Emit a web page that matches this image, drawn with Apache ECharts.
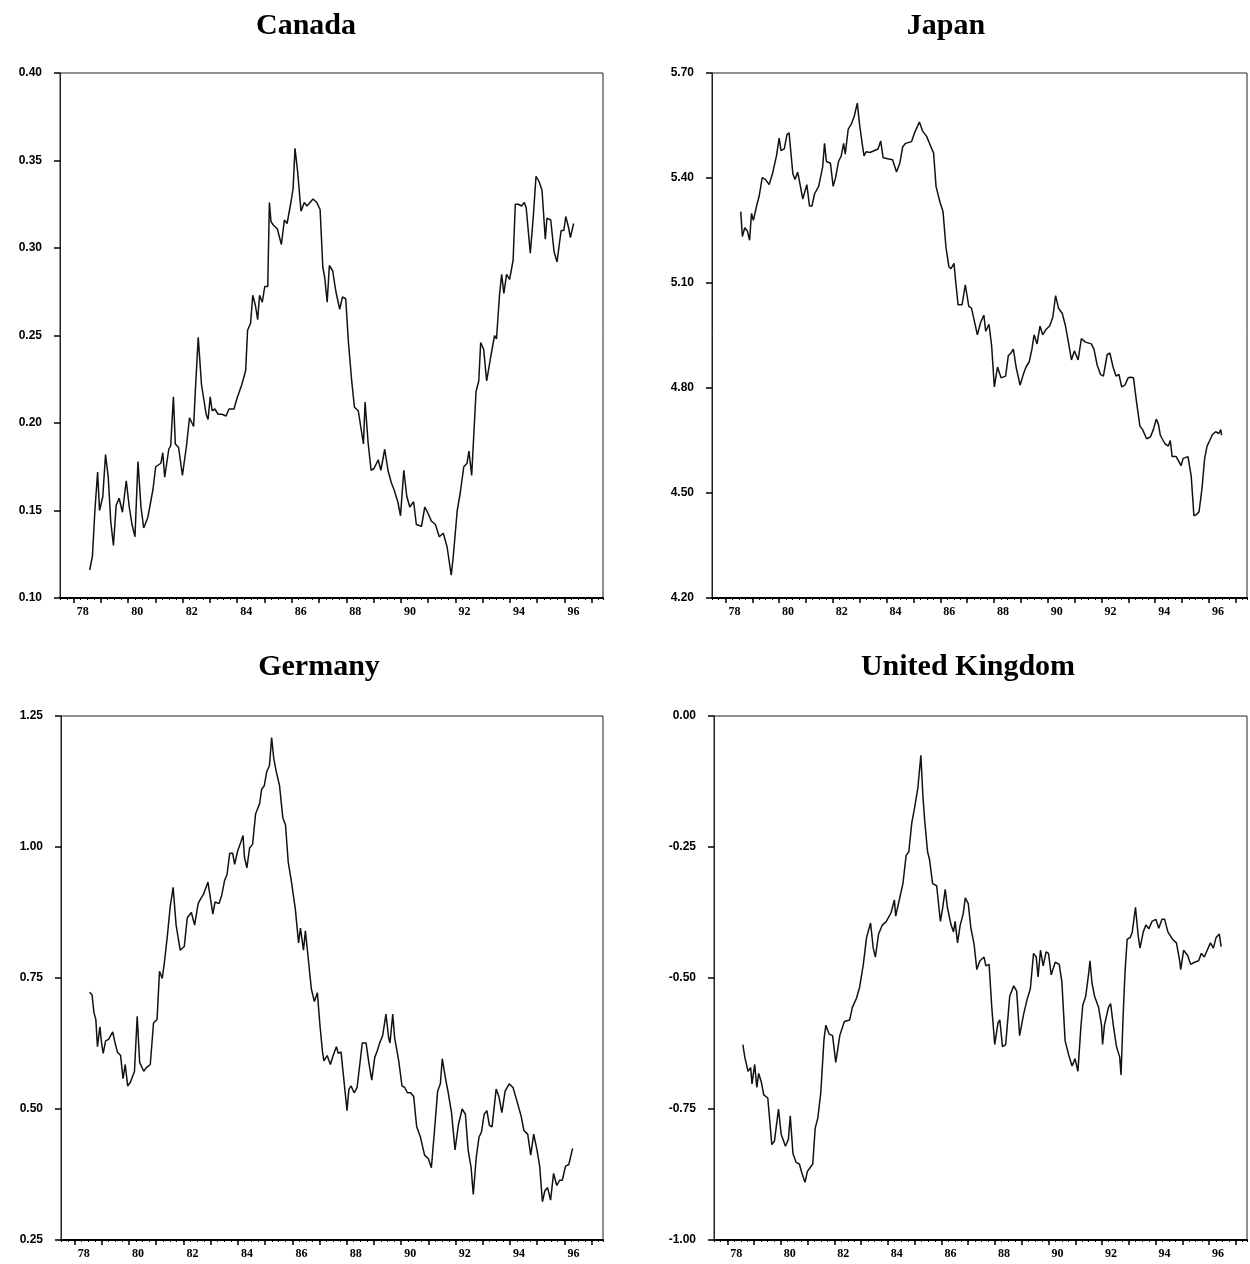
<!DOCTYPE html>
<html>
<head>
<meta charset="utf-8">
<script src="https://cdn.jsdelivr.net/npm/echarts@6/dist/echarts.min.js"></script>
<style>
  html, body { margin: 0; background: #fff; }
  #chart { width: 1250px; height: 1264px; }
</style>
</head>
<body>
<div id="chart"></div>
<script>
// values, time as decimal year
var canadaYears = [1978.59,1978.69,1978.78,1978.88,1978.95,1979.07,1979.17,1979.27,1979.36,1979.46,
  1979.56,1979.67,1979.79,1979.93,1980.04,1980.14,1980.25,1980.36,1980.47,1980.57,
  1980.72,1980.91,1981.01,1981.20,1981.27,1981.34,1981.49,1981.56,1981.66,1981.73,
  1981.85,1981.99,1982.14,1982.25,1982.40,1982.47,1982.57,1982.69,1982.86,1982.93,
  1983.01,1983.08,1983.18,1983.30,1983.44,1983.59,1983.70,1983.88,1983.99,1984.17,
  1984.31,1984.38,1984.49,1984.57,1984.67,1984.75,1984.82,1984.92,1985.01,1985.12,
  1985.18,1985.24,1985.33,1985.47,1985.62,1985.73,1985.83,1985.98,1986.05,1986.12,
  1986.22,1986.34,1986.46,1986.56,1986.78,1986.92,1987.04,1987.14,1987.21,1987.30,
  1987.38,1987.50,1987.62,1987.76,1987.86,1987.98,1988.08,1988.20,1988.30,1988.44,
  1988.54,1988.63,1988.69,1988.80,1988.91,1989.02,1989.17,1989.27,1989.41,1989.53,
  1989.65,1989.75,1989.89,1989.99,1990.11,1990.22,1990.33,1990.47,1990.57,1990.76,
  1990.88,1991.01,1991.12,1991.27,1991.41,1991.56,1991.70,1991.85,1991.92,1992.07,
  1992.18,1992.31,1992.43,1992.50,1992.60,1992.69,1992.76,1992.86,1992.93,1993.04,
  1993.15,1993.30,1993.44,1993.51,1993.62,1993.70,1993.78,1993.88,1993.99,1994.12,
  1994.20,1994.31,1994.43,1994.53,1994.60,1994.75,1994.86,1994.96,1995.07,1995.18,
  1995.30,1995.36,1995.50,1995.62,1995.73,1995.88,1995.98,1996.05,1996.15,1996.22,
  1996.34];
var canadaValues = [0.116,0.124,0.150,0.172,0.150,0.158,0.182,0.169,0.144,0.130,
  0.153,0.157,0.149,0.167,0.152,0.142,0.135,0.178,0.152,0.140,
  0.146,0.162,0.175,0.177,0.183,0.169,0.185,0.187,0.215,0.188,
  0.186,0.170,0.187,0.203,0.198,0.220,0.249,0.222,0.205,0.202,
  0.215,0.207,0.208,0.205,0.205,0.204,0.208,0.208,0.214,0.222,
  0.230,0.253,0.257,0.273,0.267,0.259,0.273,0.269,0.278,0.278,
  0.326,0.315,0.313,0.311,0.302,0.316,0.314,0.327,0.334,0.357,
  0.343,0.321,0.326,0.324,0.328,0.326,0.322,0.289,0.283,0.269,
  0.290,0.287,0.275,0.265,0.272,0.271,0.246,0.224,0.209,0.207,
  0.197,0.188,0.212,0.189,0.173,0.174,0.179,0.173,0.185,0.173,
  0.166,0.162,0.155,0.147,0.173,0.158,0.152,0.155,0.142,0.141,
  0.152,0.148,0.144,0.142,0.135,0.137,0.129,0.113,0.123,0.150,
  0.160,0.175,0.177,0.184,0.170,0.197,0.218,0.224,0.246,0.242,
  0.224,0.238,0.250,0.248,0.273,0.285,0.274,0.285,0.282,0.293,
  0.325,0.325,0.324,0.326,0.323,0.297,0.318,0.341,0.338,0.333,
  0.305,0.317,0.316,0.298,0.292,0.310,0.310,0.318,0.312,0.306,
  0.314];

var japanYears = [1978.57,1978.63,1978.72,1978.82,1978.90,1978.97,1979.04,1979.16,1979.26,1979.37,
  1979.49,1979.63,1979.75,1979.90,1980.00,1980.07,1980.19,1980.29,1980.37,1980.51,
  1980.59,1980.69,1980.78,1980.88,1981.03,1981.13,1981.22,1981.32,1981.47,1981.62,
  1981.69,1981.76,1981.91,1982.01,1982.10,1982.21,1982.31,1982.40,1982.46,1982.57,
  1982.69,1982.79,1982.91,1982.99,1983.09,1983.16,1983.24,1983.38,1983.53,1983.68,
  1983.78,1983.87,1984.04,1984.22,1984.37,1984.49,1984.60,1984.71,1984.93,1985.04,
  1985.22,1985.34,1985.49,1985.63,1985.75,1985.84,1985.99,1986.10,1986.21,1986.32,
  1986.40,1986.51,1986.57,1986.66,1986.81,1986.93,1987.06,1987.16,1987.28,1987.38,
  1987.50,1987.62,1987.69,1987.81,1987.91,1988.01,1988.13,1988.26,1988.43,1988.53,
  1988.63,1988.72,1988.82,1988.97,1989.09,1989.19,1989.31,1989.41,1989.49,1989.60,
  1989.71,1989.81,1989.93,1990.07,1990.19,1990.29,1990.40,1990.54,1990.66,1990.78,
  1990.88,1990.99,1991.13,1991.25,1991.40,1991.62,1991.72,1991.84,1991.96,1992.07,
  1992.21,1992.31,1992.43,1992.54,1992.65,1992.75,1992.87,1992.99,1993.09,1993.19,
  1993.31,1993.43,1993.53,1993.68,1993.82,1993.93,1994.04,1994.12,1994.19,1994.26,
  1994.37,1994.49,1994.56,1994.63,1994.78,1994.85,1994.96,1995.04,1995.22,1995.34,
  1995.40,1995.44,1995.54,1995.63,1995.74,1995.84,1995.93,1996.03,1996.13,1996.25,
  1996.37,1996.44,1996.47];
var japanValues = [5.304,5.233,5.258,5.248,5.222,5.299,5.279,5.320,5.350,5.401,
  5.396,5.381,5.412,5.463,5.514,5.478,5.483,5.524,5.529,5.412,
  5.396,5.417,5.381,5.340,5.381,5.320,5.320,5.355,5.376,5.432,
  5.499,5.447,5.442,5.376,5.401,5.447,5.463,5.499,5.468,5.539,
  5.555,5.575,5.614,5.555,5.499,5.463,5.475,5.473,5.478,5.483,
  5.506,5.458,5.455,5.452,5.417,5.442,5.489,5.499,5.504,5.529,
  5.560,5.534,5.519,5.493,5.471,5.376,5.330,5.304,5.202,5.146,
  5.141,5.156,5.105,5.038,5.038,5.095,5.033,5.028,4.987,4.952,
  4.987,5.008,4.962,4.982,4.921,4.803,4.860,4.829,4.834,4.892,
  4.900,4.911,4.860,4.808,4.839,4.860,4.875,4.911,4.952,4.926,
  4.977,4.952,4.967,4.977,5.003,5.064,5.028,5.013,4.977,4.926,
  4.880,4.906,4.880,4.941,4.931,4.926,4.911,4.865,4.839,4.834,
  4.895,4.900,4.860,4.834,4.839,4.803,4.808,4.829,4.831,4.829,
  4.757,4.691,4.681,4.655,4.660,4.681,4.711,4.696,4.665,4.655,
  4.640,4.634,4.650,4.604,4.604,4.609,4.578,4.599,4.604,4.548,
  4.481,4.435,4.439,4.446,4.512,4.599,4.634,4.650,4.667,4.675,
  4.670,4.681,4.665];

var germanyYears = [1978.55,1978.64,1978.71,1978.78,1978.84,1978.93,1978.99,1979.05,1979.14,1979.25,
  1979.40,1979.47,1979.57,1979.69,1979.78,1979.86,1979.95,1980.05,1980.20,1980.30,
  1980.39,1980.54,1980.64,1980.78,1980.90,1981.03,1981.12,1981.22,1981.30,1981.41,
  1981.51,1981.62,1981.73,1981.88,1982.03,1982.14,1982.29,1982.41,1982.54,1982.64,
  1982.73,1982.90,1983.00,1983.08,1983.16,1983.31,1983.41,1983.51,1983.60,1983.70,
  1983.81,1983.88,1984.00,1984.10,1984.19,1984.24,1984.33,1984.43,1984.54,1984.65,
  1984.80,1984.87,1984.97,1985.06,1985.16,1985.24,1985.32,1985.41,1985.53,1985.65,
  1985.75,1985.85,1985.97,1986.11,1986.23,1986.30,1986.41,1986.48,1986.58,1986.70,
  1986.81,1986.92,1987.02,1987.11,1987.16,1987.28,1987.40,1987.50,1987.62,1987.69,
  1987.79,1987.89,1988.01,1988.08,1988.16,1988.27,1988.38,1988.48,1988.57,1988.71,
  1988.81,1988.92,1989.03,1989.11,1989.21,1989.32,1989.44,1989.54,1989.59,1989.69,
  1989.76,1989.91,1990.03,1990.13,1990.23,1990.35,1990.46,1990.57,1990.71,1990.86,
  1991.00,1991.11,1991.22,1991.34,1991.44,1991.51,1991.63,1991.73,1991.85,1991.98,
  1992.10,1992.24,1992.36,1992.46,1992.57,1992.65,1992.76,1992.86,1992.95,1993.05,
  1993.15,1993.24,1993.34,1993.49,1993.59,1993.70,1993.82,1993.97,1994.11,1994.26,
  1994.41,1994.51,1994.65,1994.76,1994.87,1994.99,1995.09,1995.19,1995.28,1995.38,
  1995.49,1995.60,1995.72,1995.82,1995.92,1996.04,1996.16,1996.30];
var germanyValues = [0.723,0.718,0.684,0.671,0.619,0.657,0.626,0.606,0.630,0.633,
  0.647,0.630,0.609,0.602,0.558,0.585,0.544,0.551,0.572,0.677,
  0.589,0.572,0.579,0.585,0.664,0.671,0.763,0.749,0.780,0.831,
  0.885,0.923,0.851,0.803,0.810,0.865,0.875,0.851,0.892,0.902,
  0.909,0.933,0.899,0.872,0.895,0.892,0.909,0.936,0.947,0.988,
  0.988,0.967,0.994,1.008,1.022,0.981,0.960,0.998,1.005,1.063,
  1.083,1.110,1.117,1.144,1.155,1.209,1.168,1.144,1.117,1.056,
  1.042,0.971,0.933,0.882,0.817,0.845,0.803,0.840,0.790,0.729,
  0.705,0.722,0.657,0.609,0.592,0.602,0.585,0.602,0.619,0.606,
  0.609,0.558,0.497,0.538,0.544,0.531,0.541,0.585,0.626,0.626,
  0.589,0.555,0.599,0.609,0.626,0.640,0.681,0.636,0.626,0.681,
  0.636,0.592,0.544,0.541,0.531,0.531,0.524,0.466,0.446,0.412,
  0.405,0.388,0.456,0.534,0.548,0.596,0.558,0.531,0.493,0.422,
  0.469,0.500,0.490,0.422,0.388,0.337,0.408,0.446,0.456,0.490,
  0.497,0.469,0.466,0.538,0.524,0.493,0.534,0.548,0.541,0.514,
  0.486,0.459,0.452,0.412,0.452,0.422,0.391,0.323,0.344,0.350,
  0.326,0.377,0.354,0.364,0.364,0.391,0.394,0.425];

var ukYears = [1978.58,1978.65,1978.77,1978.87,1978.92,1979.02,1979.10,1979.17,1979.27,1979.36,
  1979.51,1979.66,1979.76,1979.91,1980.01,1980.17,1980.28,1980.35,1980.45,1980.57,
  1980.69,1980.79,1980.90,1980.99,1981.09,1981.19,1981.28,1981.38,1981.49,1981.61,
  1981.68,1981.80,1981.93,1982.05,1982.20,1982.37,1982.57,1982.67,1982.82,1982.94,
  1983.08,1983.20,1983.35,1983.45,1983.53,1983.65,1983.79,1983.94,1984.12,1984.24,
  1984.29,1984.41,1984.56,1984.68,1984.78,1984.89,1985.00,1985.12,1985.23,1985.30,
  1985.37,1985.48,1985.55,1985.67,1985.82,1985.96,1986.04,1986.14,1986.22,1986.36,
  1986.45,1986.51,1986.60,1986.70,1986.81,1986.89,1987.00,1987.10,1987.22,1987.32,
  1987.44,1987.59,1987.66,1987.78,1987.88,1987.99,1988.11,1988.18,1988.28,1988.40,
  1988.55,1988.70,1988.81,1988.92,1989.07,1989.21,1989.32,1989.44,1989.54,1989.61,
  1989.70,1989.80,1989.91,1990.00,1990.10,1990.25,1990.40,1990.50,1990.62,1990.76,
  1990.88,1990.99,1991.10,1991.21,1991.28,1991.39,1991.50,1991.55,1991.62,1991.72,
  1991.87,1991.98,1992.02,1992.09,1992.24,1992.32,1992.42,1992.54,1992.66,1992.71,
  1992.79,1992.86,1992.94,1993.05,1993.13,1993.25,1993.35,1993.42,1993.54,1993.64,
  1993.75,1993.87,1994.01,1994.12,1994.24,1994.34,1994.46,1994.63,1994.78,1994.90,
  1994.94,1995.05,1995.20,1995.31,1995.46,1995.61,1995.71,1995.82,1995.93,1996.05,
  1996.16,1996.26,1996.38,1996.45];
var ukValues = [-0.627,-0.651,-0.678,-0.671,-0.702,-0.665,-0.709,-0.682,-0.699,-0.723,
  -0.729,-0.818,-0.811,-0.750,-0.798,-0.821,-0.808,-0.763,-0.835,-0.852,
  -0.855,-0.873,-0.890,-0.869,-0.862,-0.855,-0.787,-0.767,-0.719,-0.617,
  -0.590,-0.607,-0.610,-0.661,-0.610,-0.583,-0.580,-0.556,-0.539,-0.518,
  -0.474,-0.423,-0.395,-0.443,-0.460,-0.416,-0.399,-0.392,-0.375,-0.351,
  -0.382,-0.354,-0.320,-0.266,-0.259,-0.204,-0.174,-0.136,-0.075,-0.147,
  -0.198,-0.259,-0.273,-0.320,-0.324,-0.392,-0.368,-0.331,-0.365,-0.399,
  -0.412,-0.392,-0.433,-0.399,-0.378,-0.347,-0.358,-0.405,-0.436,-0.484,
  -0.467,-0.460,-0.477,-0.474,-0.556,-0.627,-0.586,-0.580,-0.631,-0.627,
  -0.535,-0.515,-0.525,-0.610,-0.569,-0.539,-0.521,-0.453,-0.460,-0.498,
  -0.447,-0.477,-0.450,-0.453,-0.494,-0.470,-0.474,-0.508,-0.620,-0.648,
  -0.668,-0.654,-0.678,-0.593,-0.552,-0.535,-0.491,-0.467,-0.508,-0.535,
  -0.556,-0.590,-0.627,-0.590,-0.556,-0.549,-0.590,-0.631,-0.651,-0.685,
  -0.569,-0.487,-0.426,-0.423,-0.412,-0.365,-0.419,-0.443,-0.412,-0.399,
  -0.406,-0.392,-0.388,-0.405,-0.388,-0.388,-0.412,-0.426,-0.433,-0.467,
  -0.484,-0.447,-0.457,-0.474,-0.470,-0.467,-0.453,-0.460,-0.447,-0.433,
  -0.443,-0.423,-0.416,-0.440];

// year labels shown under each panel
var yearLabels = ['78','80','82','84','86','88','90','92','94','96'];

// monthly categories, July 1977 .. June 1997, used only for ticks and labels
var startT = 1977.5;
var months = [];
for (var i = 0; i < 240; i++) {
  var m = 6 + i;
  var y = 1977 + Math.floor(m / 12);
  var mm = m % 12 + 1;
  months.push(y + '-' + (mm < 10 ? '0' + mm : mm));
}
var endT = startT + (months.length - 1) / 12;

var panels = [
  { name: 'Canada', years: canadaYears, values: canadaValues, min: 0.10, max: 0.40, step: 0.05,
    left: 60, top: 73, width: 543, height: 525, tx: 306, ty: 26 },
  { name: 'Japan', years: japanYears, values: japanValues, min: 4.20, max: 5.70, step: 0.30,
    left: 712, top: 73, width: 535, height: 525, tx: 946, ty: 26 },
  { name: 'Germany', years: germanyYears, values: germanyValues, min: 0.25, max: 1.25, step: 0.25,
    left: 61, top: 716, width: 542, height: 524, tx: 319, ty: 667 },
  { name: 'United Kingdom', years: ukYears, values: ukValues, min: -1.00, max: 0.00, step: 0.25,
    left: 714, top: 716, width: 533, height: 524, tx: 968, ty: 667 }
];

var grids = [], xAxes = [], yAxes = [], series = [], graphics = [];

panels.forEach(function (p, k) {
  grids.push({
    left: p.left, top: p.top, width: p.width, height: p.height,
    show: true, borderColor: '#222', borderWidth: 1
  });
  // scale for the data, its ticks are the small quarter marks
  xAxes.push({
    gridIndex: k, type: 'value', position: 'bottom',
    min: startT, max: endT, interval: 0.25,
    axisLine: { show: false, onZero: false },
    axisTick: { show: true, length: 2, lineStyle: { color: '#000', width: 1 } },
    axisLabel: { show: false },
    splitLine: { show: false }
  });
  // year ticks and the two digit labels
  xAxes.push({
    gridIndex: k, type: 'category', position: 'bottom',
    data: months, boundaryGap: false,
    axisLine: { show: true, onZero: false, lineStyle: { color: '#000', width: 2 } },
    axisTick: {
      show: true, length: 5, lineStyle: { color: '#000', width: 1.5 },
      interval: function (idx, val) { return val.slice(5) === '01'; }
    },
    axisLabel: {
      interval: function (idx, val) {
        return val.slice(5) === '05' && yearLabels.indexOf(val.slice(2, 4)) >= 0;
      },
      formatter: function (val) { return val.slice(2, 4); },
      color: '#000', fontFamily: 'Liberation Sans Narrow', fontWeight: 'bold', fontSize: 12, margin: 8
    },
    splitLine: { show: false }
  });
  yAxes.push({
    gridIndex: k, type: 'value', min: p.min, max: p.max, interval: p.step,
    axisLine: { show: true, onZero: false, lineStyle: { color: '#222', width: 1 } },
    axisTick: { show: true, length: 6, lineStyle: { color: '#000', width: 1.5 } },
    axisLabel: {
      formatter: function (v) { return v.toFixed(2); },
      color: '#000', fontFamily: 'Liberation Sans', fontWeight: 'bold', fontSize: 12, margin: 18
    },
    splitLine: { show: false }
  });
  series.push({
    name: p.name, type: 'line', xAxisIndex: 2 * k, yAxisIndex: k,
    data: p.years.map(function (t, i) { return [t, p.values[i]]; }),
    showSymbol: false, symbol: 'none',
    lineStyle: { color: '#111', width: 1.5 },
    animation: false
  });
  graphics.push({
    type: 'text', x: p.tx, y: p.ty,
    style: {
      text: p.name, fill: '#000',
      font: 'bold 30px "Liberation Serif", "DejaVu Serif", serif',
      textAlign: 'center', textVerticalAlign: 'middle',
      align: 'center', verticalAlign: 'middle'
    }
  });
});

var chart = echarts.init(document.getElementById('chart'));
chart.setOption({
  backgroundColor: '#fff',
  animation: false,
  grid: grids,
  xAxis: xAxes,
  yAxis: yAxes,
  series: series,
  graphic: graphics
});
</script>
</body>
</html>
